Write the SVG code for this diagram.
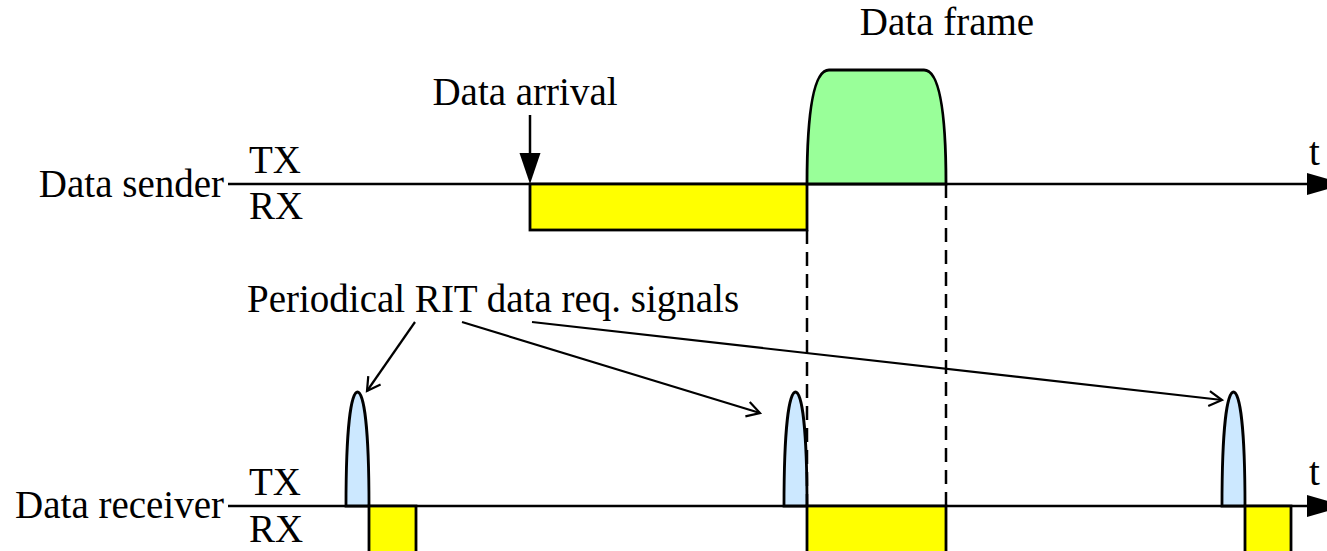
<svg xmlns="http://www.w3.org/2000/svg" width="1327" height="551" viewBox="0 0 1327 551">
<style>
text{font-family:"Liberation Serif","Times New Roman",serif;font-size:39px;fill:#000}
.ax{stroke:#000;stroke-width:2.5;fill:none}
.box{fill:#ffff00;stroke:#000;stroke-width:2.8}
.pulse{fill:#cce8ff;stroke:#000;stroke-width:2.8}
.frame{fill:#99ff99;stroke:#000;stroke-width:2.8}
.dash{stroke:#000;stroke-width:2.5;stroke-dasharray:14 8;fill:none}
.call{stroke:#000;stroke-width:2.2;fill:none}
</style>
<defs>
<marker id="open" markerWidth="18" markerHeight="18" refX="15" refY="9" orient="auto" markerUnits="userSpaceOnUse">
<path d="M2,1.5 L15,9 L2,16.5" fill="none" stroke="#000" stroke-width="2.2"/>
</marker>
</defs>
<rect width="1327" height="551" fill="#fff"/>

<g id="sender">
<text x="224" y="197" text-anchor="end">Data sender</text>
<text x="249" y="173">TX</text>
<text x="249" y="219">RX</text>
<line class="ax" x1="228" y1="184" x2="1310" y2="184"/>
<polygon points="1307,173 1345,184 1307,195" fill="#000"/>
<text x="1309" y="165">t</text>
</g>

<g id="sender-rx">
<rect class="box" x="530" y="184" width="277" height="46"/>
</g>

<g id="data-frame">
<path class="frame" d="M807,184 C807,120 812,70 829,70 L924,70 C941,70 946,120 946,184 Z"/>
<text x="947" y="35" text-anchor="middle">Data frame</text>
</g>

<g id="data-arrival">
<text x="525" y="105" text-anchor="middle">Data arrival</text>
<line x1="530" y1="115" x2="530" y2="155" stroke="#000" stroke-width="2.5"/>
<polygon points="519.5,153 540.5,153 530,184" fill="#000"/>
</g>

<g id="receiver">
<text x="224" y="518" text-anchor="end">Data receiver</text>
<text x="249" y="495">TX</text>
<text x="249" y="542">RX</text>
<line class="ax" x1="228" y1="506" x2="1310" y2="506"/>
<polygon points="1307,495 1345,506 1307,517" fill="#000"/>
<text x="1309" y="485">t</text>
</g>

<g id="pulses">
<path class="pulse" d="M346,506 C346,430 351,392 357.5,392 C364,392 369,430 369,506 Z"/>
<path class="pulse" d="M784,506 C784,430 789,392 795.5,392 C802,392 807,430 807,506 Z"/>
<path class="pulse" d="M1222,506 C1222,430 1227,392 1233.5,392 C1240,392 1245,430 1245,506 Z"/>
</g>

<g id="receiver-rx">
<rect class="box" x="369" y="506" width="47" height="60"/>
<rect class="box" x="807" y="506" width="139" height="60"/>
<rect class="box" x="1245" y="506" width="46" height="60"/>
</g>

<g id="connectors">
<line class="dash" x1="807" y1="230" x2="807" y2="506"/>
<line class="dash" x1="946" y1="184" x2="946" y2="506"/>
<line class="call" x1="415" y1="322" x2="367" y2="391" marker-end="url(#open)"/>
<line class="call" x1="462" y1="322" x2="760" y2="413" marker-end="url(#open)"/>
<line class="call" x1="532" y1="322" x2="1222" y2="400" marker-end="url(#open)"/>
</g>

<g id="label">
<text x="247" y="312">Periodical RIT data req. signals</text>
</g>
</svg>
